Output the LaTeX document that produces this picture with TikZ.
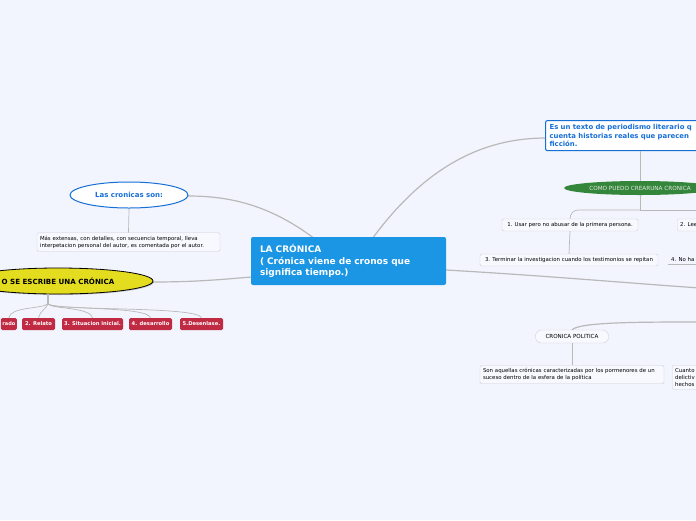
\documentclass[tikz,border=0pt]{standalone}
\usepackage{fontspec}
\setmainfont{DejaVu Sans}
\usetikzlibrary{shapes.geometric, arrows.meta, positioning, shadows}
\definecolor{bgpaper}{RGB}{242,245,253}
\definecolor{topicblue}{RGB}{27,150,229}
\definecolor{textblue}{RGB}{22,110,215}
\definecolor{linegray}{RGB}{185,185,185}
\definecolor{boxgray}{RGB}{205,208,215}
\definecolor{stepred}{RGB}{192,42,66}
\definecolor{leafgreen}{RGB}{52,135,58}
\definecolor{howyellow}{RGB}{228,220,30}
\tikzset{
    central/.style={rectangle, fill=topicblue, rounded corners=2pt, minimum width=195pt, minimum height=48pt, text width=177pt, align=left, text=white, font=\fontsize{9}{11.5}\selectfont\bfseries},
    bubble/.style={ellipse, draw=textblue, line width=1pt, fill=white, text=textblue, font=\fontsize{7}{8}\selectfont\bfseries},
    note/.style={rectangle, draw=boxgray, fill=bgpaper!60!white, rounded corners=1.5pt, inner sep=3pt, align=left, font=\fontsize{5.4}{7}\selectfont},
    framed/.style={rectangle, draw=textblue, line width=1.1pt, fill=white, rounded corners=2pt, inner sep=4pt, align=left, text=textblue, font=\fontsize{6.9}{8.4}\selectfont\bfseries},
    stepbox/.style={rectangle, fill=stepred, rounded corners=1.5pt, minimum height=12pt, inner sep=1pt, text=white, font=\fontsize{5.2}{6}\selectfont\bfseries},
    greenleaf/.style={ellipse, fill=leafgreen, minimum width=152pt, minimum height=14pt, inner sep=0pt, text=white!90!black, font=\fontsize{5.7}{6.5}\selectfont},
    pill/.style={rectangle, draw=boxgray, fill=white!40!bgpaper, rounded corners=6pt, minimum width=73pt, minimum height=13pt, inner sep=2pt, font=\fontsize{5.6}{6.5}\selectfont},
    link/.style={draw=linegray, line width=1.2pt},
    sublink/.style={draw=linegray, line width=0.7pt},
}

\begin{document}
\begin{tikzpicture}[x=1pt, y=-1pt]
    \useasboundingbox (0,0) rectangle (696,520);
    \clip (0,0) rectangle (696,520);
    \fill[bgpaper] (0,0) rectangle (696,520);

    % right edge ends of branches
    \coordinate (eastend1) at (700,288);
    \coordinate (eastend2) at (700,322);

    % branches of the main topic (drawn first)
    \draw[link] (315,239) .. controls (270,205) and (230,196) .. (188,196);
    \draw[link] (372,239) .. controls (430,160) and (490,138) .. (546,138);
    \draw[link] (152,282) .. controls (200,282) and (225,279) .. (252,277);
    \draw[link] (446,270) .. controls (550,276) and (640,284) .. (eastend1);
    \draw[link] (572,330) .. controls (578,322) and (640,322) .. (eastend2);

    % main topic
    \node[central] (cronica) at (348.5,261) {LA CRÓNICA\\( Crónica viene de cronos que\\significa tiempo.)};

    % las cronicas son
    \node[bubble, minimum width=118pt, minimum height=26pt] (cronicas) at (129,195) {Las cronicas son:};
    \node[note, text width=177pt] (extensas) at (128.5,242) {Más extensas, con detalles, con secuencia temporal, lleva\\interpetacion personal del autor, es comentada por el autor.};
    \draw[sublink] (cronicas.south) -- (extensas.north);

    % como se escribe
    \node[ellipse, draw=black, line width=0.8pt, fill=howyellow, drop shadow={shadow xshift=1pt, shadow yshift=-1pt, opacity=0.4}, minimum width=190pt, minimum height=26pt, font=\fontsize{7.1}{8}\selectfont\bfseries] (escribe) at (58,281) {O SE ESCRIBE UNA CRÓNICA};
    \coordinate (fork) at (48,304);
    \draw[link] (escribe.south -| fork) -- (fork);
    \node[stepbox, anchor=east, inner xsep=1.5pt, font=\fontsize{5}{6}\selectfont\bfseries] (paso1) at (17,324) {rado};
    \node[stepbox, minimum width=33pt] (paso2) at (38.5,324) {2. Relato};
    \node[stepbox, minimum width=61pt] (paso3) at (92.5,324) {3. Situacion inicial.};
    \node[stepbox, minimum width=43pt] (paso4) at (150.5,324) {4. desarrollo};
    \node[stepbox, minimum width=43pt] (paso5) at (201.5,324) {5.Desenlase.};
    \draw[sublink] (fork) .. controls (40,309) and (10,307) .. (paso1.north);
    \draw[sublink] (fork) .. controls (46,309) and (40,311) .. (paso2.north);
    \draw[sublink] (fork) .. controls (52,309) and (90,307) .. (paso3.north);
    \draw[sublink] (fork) .. controls (55,310) and (148,306) .. (paso4.north);
    \draw[sublink] (fork) .. controls (58,311) and (198,306) .. (paso5.north);

    % definicion
    \node[framed, anchor=north west, text width=170pt] (texto) at (545,120) {Es un texto de periodismo literario q\\cuenta historias reales que parecen\\ficción.};
    \node[greenleaf] (crear) at (640,188) {COMO PUEDO CREARUNA CRONICA};
    \draw[sublink] (texto.south -| crear) -- (crear.north);
    \node[note, minimum width=136pt, minimum height=12pt] (usar) at (570,225) {1. Usar pero no abusar de la primera persona.};
    \node[note, anchor=west, minimum height=12pt] (leer) at (677,225) {2. Lee};
    \node[note, minimum width=178pt, minimum height=12pt] (terminar) at (569,260) {3. Terminar la investigacion cuando los testimonios se repitan};
    \node[anchor=west, inner sep=3pt, font=\fontsize{5.4}{6.5}\selectfont] (nohay) at (668,259) {4. No ha};
    \draw[sublink] (nohay.south west) -- ++(40,0);
    \coordinate (split) at (640,210);
    \draw[sublink] (crear.south) -- (split);
    \draw[sublink] (split) -- (578,210) to[out=180,in=90] (usar.north);
    \draw[sublink] (split) -- (700,210);
    \draw[sublink] (usar.south) -- (terminar.north);

    % cronica politica
    \node[pill] (politica) at (572,336.5) {CRONICA POLITICA};
    \node[note, text width=178pt] (aquellas) at (572,374.5) {Son aquellas crónicas caracterizadas por los pormenores de un\\suceso dentro de la esfera de la política};
    \node[note, anchor=north west, text width=40pt] (cuanto) at (672,365) {Cuanto\\delictiv\\hechos};
    \draw[sublink] (politica.south) -- (aquellas.north);
\end{tikzpicture}
\end{document}
